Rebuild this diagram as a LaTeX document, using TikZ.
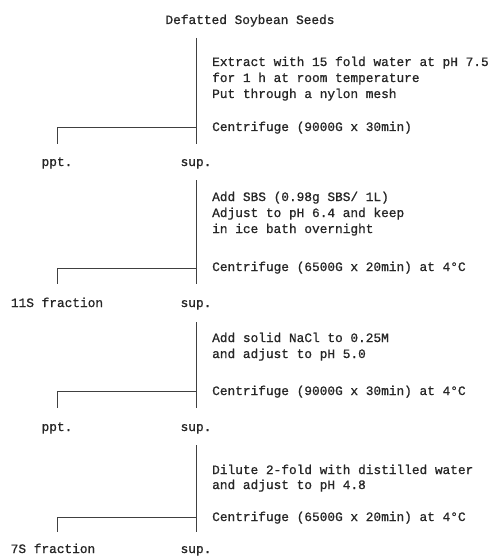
\documentclass[tikz,border=0pt]{standalone}
\usepackage{fontspec}
\setmainfont{Liberation Mono}[FakeBold=0.9]
\usepackage{tikz}

\begin{document}
\begin{tikzpicture}[x=1pt,y=-1pt,font=\fontsize{12.8}{16}\selectfont,
  every node/.style={inner sep=0pt,text=black!85},
  txt/.style={anchor=base west},
  lbl/.style={anchor=base},
  bar/.style={line width=0.8pt,draw=black!75}]
  \useasboundingbox (0,0) rectangle (494,556);
  % starting material
  \node[lbl] (seeds) at (250,24) {Defatted Soybean Seeds};
  % stage 1: extraction
  \node[txt] (ext1) at (212,66) {Extract with 15 fold water at pH 7.5};
  \node[txt] (ext2) at (212,82) {for 1 h at room temperature};
  \node[txt] (ext3) at (212,98) {Put through a nylon mesh};
  \node[txt] (cf1) at (212,131) {Centrifuge (9000G x 30min)};
  \node[lbl] (ppt1) at (57,166) {ppt.};
  \node[lbl] (sup1) at (196,166) {sup.};
  \coordinate (top1) at (196,38); \coordinate (end1) at (196,144);
  \coordinate (j1) at (196,127); \coordinate (k1) at (57,144);
  \draw[bar] (top1) -- (end1); \draw[bar] (j1) -| (k1);
  % stage 2: SBS, pH 6.4
  \node[txt] (sbs1) at (212,201) {Add SBS (0.98g SBS/ 1L)};
  \node[txt] (sbs2) at (212,217) {Adjust to pH 6.4 and keep};
  \node[txt] (sbs3) at (212,233) {in ice bath overnight};
  \node[txt] (cf2) at (212,271) {Centrifuge (6500G x 20min) at 4°C};
  \node[lbl] (frac11) at (57,307) {11S fraction};
  \node[lbl] (sup2) at (196,307) {sup.};
  \coordinate (top2) at (196,180); \coordinate (end2) at (196,284);
  \coordinate (j2) at (196,268); \coordinate (k2) at (57,284);
  \draw[bar] (top2) -- (end2); \draw[bar] (j2) -| (k2);
  % stage 3: NaCl, pH 5.0
  \node[txt] (nacl1) at (212,342) {Add solid NaCl to 0.25M};
  \node[txt] (nacl2) at (212,358) {and adjust to pH 5.0};
  \node[txt] (cf3) at (212,395) {Centrifuge (9000G x 30min) at 4°C};
  \node[lbl] (ppt3) at (57,431) {ppt.};
  \node[lbl] (sup3) at (196,431) {sup.};
  \coordinate (top3) at (196,322); \coordinate (end3) at (196,408);
  \coordinate (j3) at (196,391); \coordinate (k3) at (57,408);
  \draw[bar] (top3) -- (end3); \draw[bar] (j3) -| (k3);
  % stage 4: dilution, pH 4.8
  \node[txt] (dil1) at (212,474) {Dilute 2-fold with distilled water};
  \node[txt] (dil2) at (212,489) {and adjust to pH 4.8};
  \node[txt] (cf4) at (212,521) {Centrifuge (6500G x 20min) at 4°C};
  \node[lbl] (frac7) at (53,553) {7S fraction};
  \node[lbl] (sup4) at (196,553) {sup.};
  \coordinate (top4) at (196,445); \coordinate (end4) at (196,532);
  \coordinate (j4) at (196,517); \coordinate (k4) at (57,532);
  \draw[bar] (top4) -- (end4); \draw[bar] (j4) -| (k4);
\end{tikzpicture}
\end{document}
